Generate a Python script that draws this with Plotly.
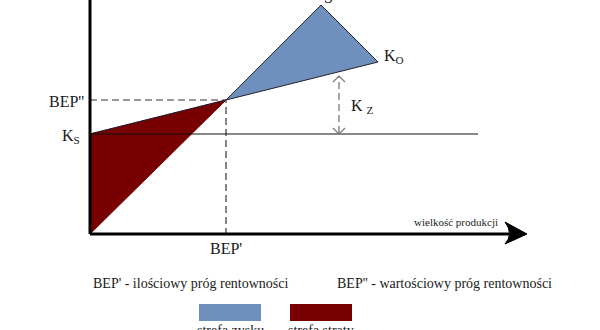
import plotly.graph_objects as go

# ---- data (value units on both axes; origin = zero production / zero value) ----
quantity_revenue = [0, 136, 231]      # S line: revenue
revenue = [0, 134, 229]
quantity_cost = [0, 136, 288]         # K_O line: total cost
total_cost = [100, 134, 172]
fixed_cost = 100                      # K_S
fixed_cost_end = 388
bep_quantity = 136                    # BEP'
bep_value = 134                       # BEP''
kz_quantity = 249                     # K_Z arrow position
kz_top = 158
axis_end = 415
axis_tip = 437

profit_x = [quantity_cost[1], quantity_revenue[2], quantity_cost[2]]
profit_y = [total_cost[1], revenue[2], total_cost[2]]
loss_x = [quantity_revenue[0], quantity_revenue[1], quantity_cost[0]]
loss_y = [revenue[0], revenue[1], total_cost[0]]

BLUE = "#6f90bc"
RED = "#780000"
EDGE = "#1c2533"
TXT = "#1a1a1a"
FONT = "Liberation Serif"

fig = go.Figure()

# zones
fig.add_trace(go.Scatter(x=loss_x, y=loss_y, fill="toself", fillcolor=RED,
                         line=dict(color=RED, width=1), mode="lines", hoverinfo="skip"))
fig.add_trace(go.Scatter(x=profit_x, y=profit_y, fill="toself", fillcolor=BLUE,
                         line=dict(color=EDGE, width=1), mode="lines", hoverinfo="skip"))
# revenue & cost lines
fig.add_trace(go.Scatter(x=quantity_revenue[1:], y=revenue[1:], mode="lines",
                         line=dict(color=EDGE, width=1), hoverinfo="skip"))
fig.add_trace(go.Scatter(x=quantity_cost, y=total_cost, mode="lines",
                         line=dict(color=EDGE, width=1), hoverinfo="skip"))
# fixed cost line
fig.add_trace(go.Scatter(x=[0, fixed_cost_end], y=[fixed_cost, fixed_cost], mode="lines",
                         line=dict(color="#111", width=1.2), hoverinfo="skip"))
# BEP dashed guides
fig.add_trace(go.Scatter(x=[0, bep_quantity, bep_quantity], y=[bep_value, bep_value, 0],
                         mode="lines", line=dict(color="#333", width=1.2, dash="7px,4px"),
                         hoverinfo="skip"))
# K_Z dashed arrow
fig.add_trace(go.Scatter(x=[kz_quantity, kz_quantity], y=[fixed_cost + 1, kz_top - 1],
                         mode="lines", line=dict(color="#777", width=1.3, dash="7px,4px"),
                         hoverinfo="skip"))
fig.add_trace(go.Scatter(x=[kz_quantity - 6, kz_quantity, kz_quantity + 6], y=[kz_top - 6, kz_top, kz_top - 6],
                         mode="lines", line=dict(color="#777", width=1.2), hoverinfo="skip"))
fig.add_trace(go.Scatter(x=[kz_quantity - 6, kz_quantity, kz_quantity + 6], y=[fixed_cost + 6, fixed_cost, fixed_cost + 6],
                         mode="lines", line=dict(color="#777", width=1.2), hoverinfo="skip"))

shapes = [
    dict(type="line", x0=0, y0=0, x1=0, y1=260, line=dict(color="black", width=3), layer="above"),
    dict(type="line", x0=0, y0=0, x1=axis_end + 4, y1=0, line=dict(color="black", width=3), layer="above"),
    dict(type="path", path=f"M{axis_tip},0 L{axis_end},12 Q{axis_end + 9},0 {axis_end},-10 Z",
         fillcolor="black", line=dict(color="black", width=1), layer="above"),
    # legend swatches
    dict(type="rect", x0=109, x1=171, y0=-87, y1=-70, fillcolor=BLUE, line=dict(width=0)),
    dict(type="rect", x0=200, x1=262, y0=-87, y1=-70, fillcolor=RED, line=dict(width=0)),
]

def ann(text, x, y, size=16, xanchor="center", yanchor="middle"):
    return dict(text=text, x=x, y=y, xref="x", yref="y", showarrow=False,
                xanchor=xanchor, yanchor=yanchor, font=dict(family=FONT, size=size, color=TXT))

annotations = [
    ann("BEP''", -4, 133, xanchor="right"),
    ann("K<sub>S</sub>", -8, 98, xanchor="right"),
    ann("K<sub>O</sub>", 292, 178, xanchor="left"),
    ann("K <sub>Z</sub>", 259, 128, xanchor="left"),
    ann("S", 238, 226, yanchor="bottom"),
    ann("BEP'", bep_quantity, -14),
    ann("wielkość produkcji", 366, 12, size=11),
    ann("BEP' - ilościowy próg rentowności", 101, -49, size=14),
    ann("BEP'' - wartościowy próg rentowności", 354, -49, size=14),
    ann("strefa zysku", 140, -96, size=14),
    ann("strefa straty", 231, -96, size=14),
]

fig.update_layout(
    width=600, height=330, margin=dict(l=0, r=0, t=0, b=0),
    paper_bgcolor="white", plot_bgcolor="white", showlegend=False,
    xaxis=dict(range=[-90, 510], visible=False, fixedrange=True),
    yaxis=dict(range=[-96, 234], visible=False, fixedrange=True),
    shapes=shapes, annotations=annotations,
)

fig.write_html("out.html")
